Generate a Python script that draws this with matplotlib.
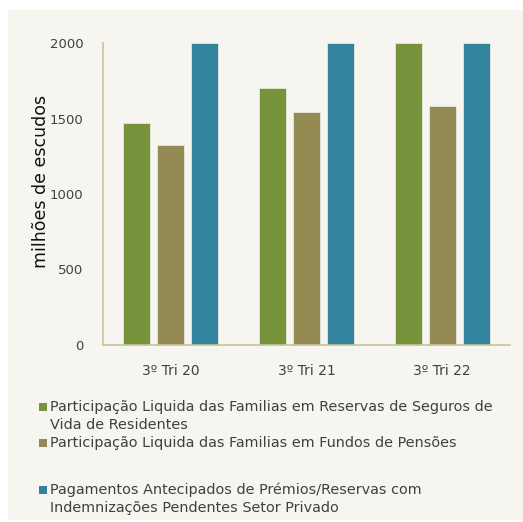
import matplotlib
matplotlib.use("Agg")
import matplotlib.pyplot as plt
from matplotlib.patches import Rectangle
import numpy as np

categories = ["3º Tri 20", "3º Tri 21", "3º Tri 22"]
series_names = [
    "Participação Liquida das Familias em Reservas de Seguros de\nVida de Residentes",
    "Participação Liquida das Familias em Fundos de Pensões",
    "Pagamentos Antecipados de Prémios/Reservas com\nIndemnizações Pendentes Setor Privado",
]
vida = [1470, 1700, 2000]
pensoes = [1325, 1545, 1585]
pagamentos = [2000, 2000, 2000]
colors = ["#77933C", "#948A54", "#31849B"]
yticks = [0, 500, 1000, 1500, 2000]

bg = "#F6F5F0"
txt = "#404040"
fig = plt.figure(figsize=(5.23, 5.22), dpi=100)
fig.patch.set_facecolor("white")
fig.patches.append(Rectangle((8 / 523, 2 / 522), 1, 1 - 12 / 522, transform=fig.transFigure,
                             facecolor=bg, edgecolor="none", zorder=-10))

ax = fig.add_axes([103 / 523, 1 - 345 / 522, (510 - 103) / 523, (345 - 43) / 522])
ax.set_facecolor(bg)
x = np.arange(len(categories))
w = 0.2
off = 0.25
for i, (vals, c) in enumerate(zip([vida, pensoes, pagamentos], colors)):
    ax.bar(x + (i - 1) * off, vals, width=w, color=c, edgecolor="#E8E8E0", linewidth=0.6)

ax.set_xlim(-0.5, 2.5)
ax.set_ylim(0, 2000)
ax.set_yticks(yticks)
ax.set_yticklabels([str(v) for v in yticks], fontsize=9.5, color=txt)
ax.set_xticks(x)
ax.set_xticklabels(categories, fontsize=10, color=txt)
ax.tick_params(axis="both", length=0)
ax.tick_params(axis="y", pad=14)
ax.tick_params(axis="x", pad=14)
for s in ["top", "right"]:
    ax.spines[s].set_visible(False)
for s in ["left", "bottom"]:
    ax.spines[s].set_color("#C9C29A")
    ax.spines[s].set_linewidth(1.2)
ax.set_ylabel("milhões de escudos", fontsize=12.5, color="#111111")
ax.yaxis.set_label_coords(-0.13, 0.543)

# legend drawn manually
ys = [407, 443, 490]
for name, c, yy in zip(series_names, colors, ys):
    fig.patches.append(Rectangle((39 / 523, 1 - (yy + 4) / 522), 8 / 523, 8 / 522,
                                 transform=fig.transFigure, facecolor=c, edgecolor="none"))
    for k, line in enumerate(name.split("\n")):
        fig.text(50 / 523, 1 - (yy + 18 * k) / 522, line, fontsize=10.4, va="center",
                 ha="left", color=txt)

fig.savefig("out.png", dpi=100, facecolor=fig.get_facecolor())
